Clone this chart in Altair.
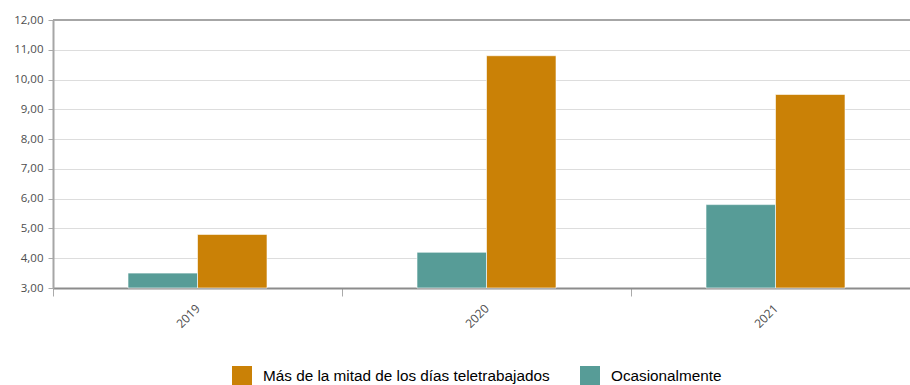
import altair as alt
import pandas as pd

years = ["2019", "2020", "2021"]
series = ["Más de la mitad de los días teletrabajados", "Ocasionalmente"]
mas_values = [4.8, 10.8, 9.5]
ocas_values = [3.5, 4.2, 5.8]
y_ticks = [3, 4, 5, 6, 7, 8, 9, 10, 11, 12]
colors = ["#CA8106", "#579C97"]

rows = []
for i, yr in enumerate(years):
    rows.append({"year": yr, "serie": series[0], "value": mas_values[i]})
    rows.append({"year": yr, "serie": series[1], "value": ocas_values[i]})
df = pd.DataFrame(rows)

yscale = alt.Scale(domain=[3, 12], nice=False, zero=False)
yaxis = alt.Axis(title=None, values=y_ticks, labelOverlap=False,
                 labelExpr="replace(format(datum.value, '.2f'), '.', ',')",
                 labelFont="Open Sans", labelFontSize=11.5, labelColor="#4d4d4d",
                 tickSize=5, tickColor="#aaaaaa", labelPadding=5,
                 domainColor="#a6a6a6", domainWidth=2,
                 gridColor="#dddddd", gridWidth=1)

bars = alt.Chart(df).mark_bar(stroke="white", strokeWidth=1, strokeOpacity=0.6).encode(
    x=alt.X("year:N", sort=years,
            scale=alt.Scale(paddingInner=0, paddingOuter=0, range=[0, 867]),
            axis=alt.Axis(title=None, labelAngle=315, labelAlign="right", labelBaseline="middle",
                          tickBand="extent", tickSize=8, tickColor="#aaaaaa", labelPadding=10,
                          labelFont="Open Sans", labelFontSize=12, labelColor="#4d4d4d",
                          domainColor="#8c8c8c", domainWidth=2, grid=False)),
    xOffset=alt.XOffset("serie:N", sort=[series[1], series[0]],
                        scale=alt.Scale(paddingInner=0, paddingOuter=0, range=[75, 214])),
    y=alt.Y("value:Q", scale=yscale, axis=yaxis),
    y2=alt.datum(3),
    color=alt.Color("serie:N", scale=alt.Scale(domain=series, range=colors),
                    legend=alt.Legend(title=None, orient="none", legendX=179, legendY=346,
                                      direction="horizontal", symbolType="square",
                                      symbolSize=400, symbolStrokeWidth=0, symbolOpacity=1,
                                      labelFont="Liberation Sans", labelFontSize=15.3,
                                      labelColor="#000000", labelOffset=11, columnPadding=30,
                                      labelLimit=0)),
)

top = alt.Chart(pd.DataFrame({"value": [12]})).mark_rule(color="#a6a6a6", strokeWidth=2).encode(
    y=alt.Y("value:Q", scale=yscale, axis=yaxis)
)

chart = alt.layer(bars, top).properties(
    width=857, height=268,
    autosize=alt.AutoSizeParams(type="none"),
    padding={"left": 53, "top": 20, "right": 0, "bottom": 97},
).configure_view(stroke=None)

chart.save("out.html", embed_options={"renderer": "svg", "actions": False})
